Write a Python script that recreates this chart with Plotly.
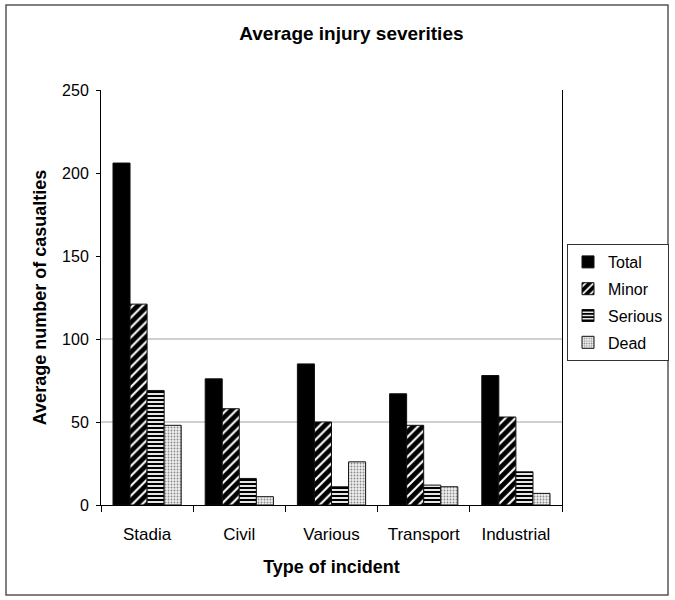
import plotly.graph_objects as go

categories = ["Stadia", "Civil", "Various", "Transport", "Industrial"]
total = [206, 76, 85, 67, 78]
minor = [121, 58, 50, 48, 53]
serious = [69, 16, 11, 12, 20]
dead = [48, 5, 26, 11, 7]
y_ticks = [0, 50, 100, 150, 200, 250]

W, H = 675, 600
L, R, T, B = 101, 113, 90, 95
pw, ph = W - L - R, H - T - B

def px(x):
    return (x - L) / pw

def py(y):
    return (H - B - y) / ph

FONT = "Liberation Sans, Arial, sans-serif"
line = dict(color="#111", width=1)

fig = go.Figure()
fig.add_bar(name="Total", x=categories, y=total, legendgroup="a",
            marker=dict(color="black", line=line))
fig.add_bar(name="Minor", x=categories, y=minor, legendgroup="b",
            marker=dict(color="black", line=line,
                        pattern=dict(shape="/", fgcolor="white", bgcolor="black",
                                     size=7, solidity=0.3, fillmode="replace")))
fig.add_bar(name="Serious", x=categories, y=serious, legendgroup="c",
            marker=dict(color="white", line=line,
                        pattern=dict(shape="-", fgcolor="black", bgcolor="white",
                                     size=4, solidity=0.55, fillmode="replace")))
fig.add_bar(name="Dead", x=categories, y=dead, legendgroup="d",
            marker=dict(color="#eeeeee", line=line,
                        pattern=dict(shape=".", fgcolor="#8a8a8a", bgcolor="#f0f0f0",
                                     size=3, solidity=0.3, fillmode="replace")))

shapes = []
for g in [50, 100]:
    shapes.append(dict(type="line", xref="paper", yref="y", x0=0, x1=1, y0=g, y1=g,
                       line=dict(color="#a0a0a0", width=1), layer="below"))
shapes.append(dict(type="rect", xref="paper", yref="paper",
                   x0=px(6), x1=px(668), y0=py(5), y1=py(595),
                   line=dict(color="#555", width=1.5)))

fig.update_layout(
    width=W, height=H,
    margin=dict(l=L, r=R, t=T, b=B, autoexpand=False),
    paper_bgcolor="white", plot_bgcolor="white",
    font=dict(family=FONT, color="black", size=16),
    barmode="group", bargap=0.26, bargroupgap=0,
    title=dict(text="<b>Average injury severities</b>", x=px(341), xanchor="center",
               y=1 - 33 / H, yanchor="middle", font=dict(size=19)),
    showlegend=True,
    legend=dict(x=px(567), y=py(244), xanchor="left", yanchor="top",
                bordercolor="#333", borderwidth=1, bgcolor="white",
                traceorder="grouped", font=dict(size=16), tracegroupgap=3,
                itemwidth=30),
    shapes=shapes,
)
fig.update_xaxes(showline=True, linecolor="black", linewidth=1,
                 ticks="outside", tickson="boundaries", ticklen=6, tickcolor="black",
                 showgrid=False, tickfont=dict(size=17), ticklabelstandoff=14,
                 title=dict(text="<b>Type of incident</b>", font=dict(size=18), standoff=16))
fig.update_yaxes(range=[0, 250], tickvals=y_ticks, showline=True, mirror=True,
                 linecolor="black", linewidth=1, ticks="outside", ticklen=4,
                 tickcolor="black", showgrid=False, zeroline=False,
                 tickfont=dict(size=16), ticklabelstandoff=4,
                 title=dict(text="<b>Average number of casualties</b>", font=dict(size=18),
                            standoff=10))

fig.write_html("out.html", config={"displayModeBar": False},
               post_script="document.body.style.margin='0';document.body.style.padding='0';")
